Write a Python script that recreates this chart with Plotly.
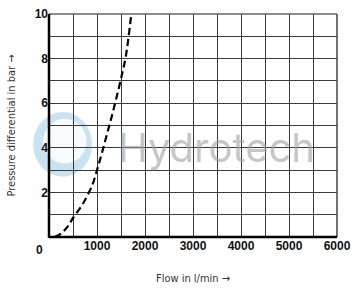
import plotly.graph_objects as go

# Data
flow = [120, 250, 400, 490, 700, 900, 1000, 1100, 1200, 1300, 1400, 1500, 1600, 1715]
pressure = [0.0, 0.15, 0.5, 0.82, 1.47, 2.32, 3.0, 3.75, 4.55, 5.35, 6.2, 7.1, 8.1, 10.0]

x_ticks = [1000, 2000, 3000, 4000, 5000, 6000]
y_ticks = [2, 4, 6, 8, 10]

title_font = dict(family="DejaVu Sans Condensed, Liberation Sans Narrow, Liberation Sans, sans-serif",
                  size=11, color="#333333")
tick_font = dict(family="Liberation Sans, Arial, sans-serif", size=12, color="#111111", weight="bold")

fig = go.Figure()

fig.add_trace(go.Scatter(
    x=flow, y=pressure, mode="lines",
    line=dict(color="black", width=2.2, dash="7px,4px", shape="spline"),
    showlegend=False, hoverinfo="skip",
))

# Watermark logo (light blue swirl approximation) and text
fig.add_shape(type="circle", xref="paper", yref="paper",
              x0=-0.055, x1=0.15, y0=0.27, y1=0.56,
              line=dict(width=0), fillcolor="rgba(165,208,232,0.6)", layer="below")
fig.add_shape(type="circle", xref="paper", yref="paper",
              x0=-0.02, x1=0.13, y0=0.33, y1=0.53,
              line=dict(width=0), fillcolor="rgba(255,255,255,0.85)", layer="below")
fig.add_annotation(text="Hydrotech", xref="paper", yref="paper",
                   x=0.58, y=0.40, showarrow=False,
                   font=dict(family="Inter, Open Sans, sans-serif", size=40, color="rgba(160,160,160,0.6)"))

# Corner "0" label
fig.add_annotation(text="0", x=0, y=0, xref="x", yref="y",
                   xshift=-10, yshift=-13, showarrow=False,
                   font=tick_font)

fig.update_xaxes(
    range=[0, 6000], tickvals=x_ticks, ticktext=[str(v) for v in x_ticks],
    showgrid=True, gridcolor="#3a3a3a", gridwidth=1.2,
    showline=False, zeroline=False, ticks="", tickfont=tick_font,
    title=dict(text="Flow in l/min →", font=title_font, standoff=22),
    minor=dict(dtick=500, showgrid=True, gridcolor="#3a3a3a", gridwidth=1.2),
)
fig.update_yaxes(
    range=[0, 10], tickvals=y_ticks, ticktext=[str(v) for v in y_ticks],
    showgrid=True, gridcolor="#3a3a3a", gridwidth=1.2,
    showline=False, zeroline=False, ticks="", tickfont=tick_font,
    title=dict(text="Pressure differential in bar →", font=title_font, standoff=16),
    minor=dict(dtick=1, showgrid=True, gridcolor="#3a3a3a", gridwidth=1.2),
)

# Frame: thick left/bottom axes, thinner gray top/right
fig.add_shape(type="line", xref="paper", yref="paper", x0=0, x1=1, y0=1, y1=1,
              line=dict(color="#666666", width=1.5))
fig.add_shape(type="line", xref="paper", yref="paper", x0=1, x1=1, y0=0, y1=1,
              line=dict(color="#444444", width=1.5))
fig.add_shape(type="line", xref="paper", yref="paper", x0=0, x1=0, y0=-0.004, y1=1,
              line=dict(color="black", width=2.5))
fig.add_shape(type="line", xref="paper", yref="paper", x0=0, x1=1, y0=0, y1=0,
              line=dict(color="black", width=2.5))

fig.update_layout(
    width=358, height=290,
    margin=dict(l=49, r=14, t=7, b=49),
    paper_bgcolor="white", plot_bgcolor="white",
)

fig.write_html("out.html")
